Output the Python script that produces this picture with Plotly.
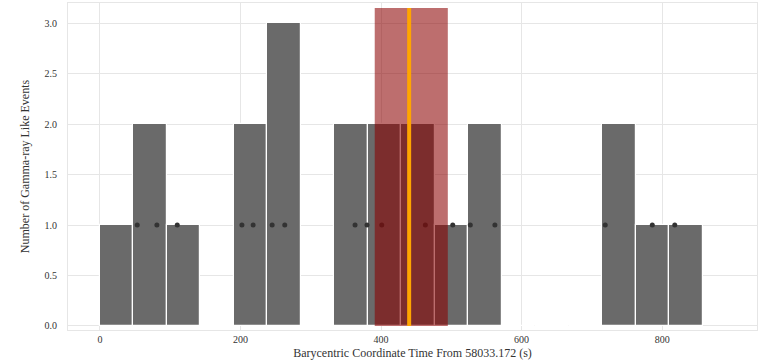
import numpy as np
import plotly.graph_objects as go

# Histogram of event arrival times (18 equal bins from 0 to 858 s)
bin_start = 0.0
bin_stop = 858.0
counts = [1, 2, 1, 0, 2, 3, 0, 2, 2, 2, 1, 2, 0, 0, 0, 2, 1, 1]

# Individual event markers drawn along y = 1
event_times = [53, 81, 110, 202, 218, 245, 263, 363, 380, 401, 463, 502, 527, 562, 719, 786, 818]
event_level = [1.0] * len(event_times)

# Burst window and its peak time
window_lo, window_hi = 391.0, 495.0
window_top = 3.15
peak_time = 440.0

x_ticks = [0, 200, 400, 600, 800]
y_ticks = [0.0, 0.5, 1.0, 1.5, 2.0, 2.5, 3.0]

edges = np.linspace(bin_start, bin_stop, len(counts) + 1)
centers = 0.5 * (edges[:-1] + edges[1:])
width = edges[1] - edges[0]

fig = go.Figure()
fig.add_trace(go.Bar(
    x=centers, y=counts, width=width,
    marker=dict(color="#6a6a6a", line=dict(color="white", width=1.2)),
    showlegend=False,
))
fig.add_trace(go.Scatter(
    x=event_times, y=event_level, mode="markers",
    marker=dict(color="#333333", size=5),
    showlegend=False,
))

fig.add_shape(type="rect", x0=window_lo, x1=window_hi, y0=0, y1=window_top,
              xref="x", yref="y", fillcolor="rgba(139,0,0,0.57)",
              line=dict(width=0), layer="above")
fig.add_shape(type="line", x0=peak_time, x1=peak_time, y0=0, y1=window_top,
              xref="x", yref="y", line=dict(color="orange", width=4),
              layer="above")

font = "Liberation Serif, Times New Roman, serif"
fig.update_layout(
    width=771, height=364,
    margin=dict(l=68, r=14, t=3, b=34),
    plot_bgcolor="white", paper_bgcolor="white",
    font=dict(family=font, size=10, color="#333333"),
    bargap=0,
)
fig.update_xaxes(
    range=[-45.5, 935], tickvals=x_ticks, ticktext=[str(v) for v in x_ticks],
    showgrid=True, gridcolor="#e6e6e6", gridwidth=1, zeroline=False,
    showline=True, linecolor="#e6e6e6", mirror=True, ticks="",
    title=dict(text="Barycentric Coordinate Time From 58033.172 (s)",
               font=dict(family=font, size=12, color="#333333"), standoff=4),
    tickfont=dict(size=10),
)
fig.update_yaxes(
    range=[-0.04, 3.2], tickvals=y_ticks, ticktext=[f"{v:.1f}" for v in y_ticks],
    showgrid=True, gridcolor="#e6e6e6", gridwidth=1, zeroline=False,
    showline=True, linecolor="#e6e6e6", mirror=True, ticks="",
    ticklabelstandoff=8,
    title=dict(text="Number of Gamma-ray Like Events",
               font=dict(family=font, size=12, color="#333333"), standoff=12),
    tickfont=dict(size=10),
)

fig.write_html("out.html")
